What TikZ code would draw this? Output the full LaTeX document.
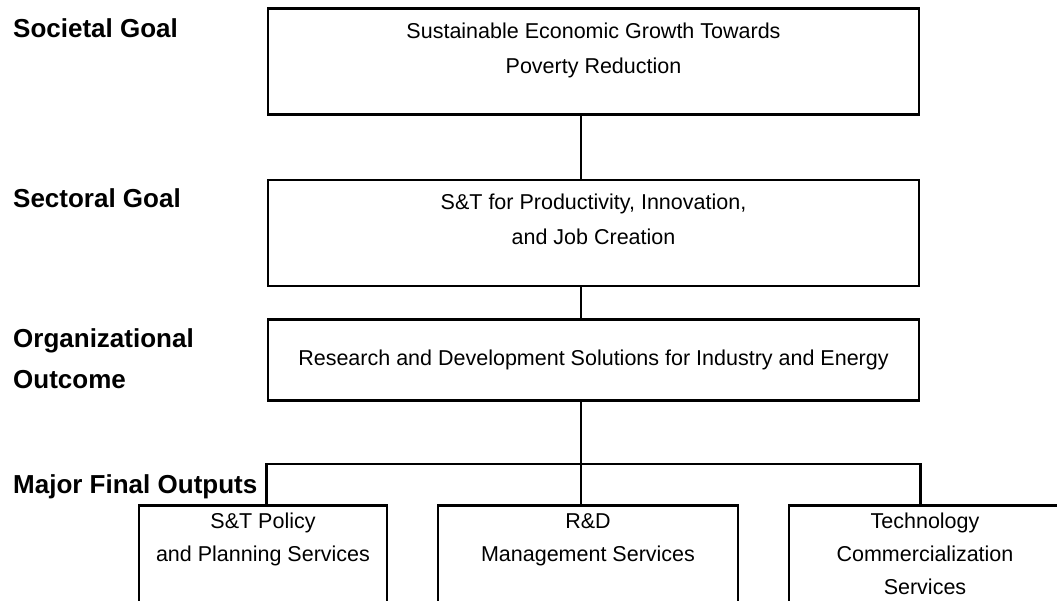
\documentclass[tikz,border=0pt]{standalone}
\usepackage{fontspec}
\setmainfont{Liberation Sans}
\usetikzlibrary{positioning}
\tikzset{
	levellabel/.style = {anchor=base west, align=left, inner sep=0pt, font=\fontsize{26pt}{41pt}\selectfont\bfseries},
	goalbox/.style = {draw, line width=2.6pt, align=center, minimum width=651pt, inner ysep=3pt, font=\fontsize{21.5pt}{35pt}\selectfont},
	outputbox/.style = {draw, line width=2.6pt, anchor=north, align=center, inner ysep=3pt, text depth=60pt, font=\fontsize{21.5pt}{33pt}\selectfont},
	link/.style = {draw, line width=2.6pt}
}
\begin{document}
\begin{tikzpicture}[x=1pt, y=-1pt]
	\useasboundingbox (0,0) rectangle (1057,600);
	% Define the level labels
	\node (societal) [levellabel] at (13,37) {Societal Goal};
	\node (sectoral) [levellabel] at (13,207) {Sectoral Goal};
	\node (organizational) [levellabel] at (13,388) {Organizational\\Outcome};
	\node (mfo) [levellabel] at (13,493) {Major Final Outputs};

	% Define the chart's boxes
	\node (goal) [goalbox, anchor=north, text height=62pt, text depth=38pt] at (593.5,7) {Sustainable Economic Growth Towards\\Poverty Reduction};
	\node (sector) [goalbox, text height=62pt, text depth=38pt, below=63pt of goal] {S\&T for Productivity, Innovation,\\and Job Creation};
	\node (outcome) [goalbox, minimum height=81pt, below=31pt of sector] {Research and Development Solutions for Industry and Energy};
	\node (policy) [outputbox, minimum width=248pt, text height=53pt] at (263,504) {S\&T Policy\\and Planning Services};
	\node (rnd) [outputbox, minimum width=300pt, text height=53pt] at (588,504) {R\&D\\Management Services};
	\node (techcom) [outputbox, minimum width=272pt, text height=86pt] at (925,504) {Technology\\Commercialization\\Services};

	% Define the chart's links
	\coordinate (spine) at (581,0);
	\coordinate (bus) at (0,464);
	\path [link] (goal.south -| spine) -- (sector.north -| spine);
	\path [link] (sector.south -| spine) -- (outcome.north -| spine);
	\path [link] (outcome.south -| spine) -- (spine |- bus);
	\path [link] (policy.north -| outcome.west) -- (outcome.west |- bus) -- (outcome.east |- bus) -- (techcom.north -| outcome.east);
	\path [link] (spine |- bus) -- (rnd.north -| spine);
\end{tikzpicture}
\end{document}
